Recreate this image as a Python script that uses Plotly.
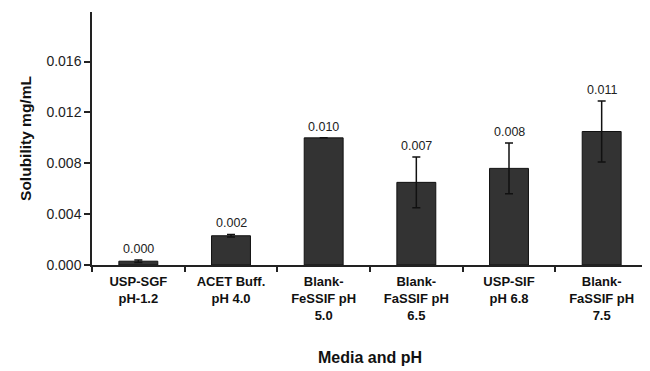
import plotly.graph_objects as go

categories = ["USP-SGF<br>pH-1.2", "ACET Buff.<br>pH 4.0", "Blank-<br>FeSSIF pH<br>5.0",
              "Blank-<br>FaSSIF pH<br>6.5", "USP-SIF<br>pH 6.8", "Blank-<br>FaSSIF pH<br>7.5"]
solubility = [0.0003, 0.0023, 0.0100, 0.0065, 0.0076, 0.0105]
errors = [0.0001, 0.0001, 0.0, 0.0020, 0.0020, 0.0024]
value_labels = ["0.000", "0.002", "0.010", "0.007", "0.008", "0.011"]
y_ticks = [0.000, 0.004, 0.008, 0.012, 0.016]

FONT = "Liberation Sans, Arial"

fig = go.Figure()
fig.add_trace(go.Bar(
    x=categories, y=solubility,
    marker=dict(color="#333333", line=dict(color="#111111", width=1)),
    width=0.42,
    error_y=dict(type="data", array=errors, visible=True, color="#111111", thickness=1.5, width=4),
))

for c, v, e, t in zip(categories, solubility, errors, value_labels):
    fig.add_annotation(x=c, y=v + e, text=t, showarrow=False, yanchor="bottom", yshift=2,
                       font=dict(family=FONT, size=12.5, color="#222222"))

# page body has an 8px default margin, so the figure is shrunk by 8px and margins shifted
fig.update_layout(
    width=642, height=363,
    margin=dict(l=84, r=2, t=4, b=106),
    plot_bgcolor="white", paper_bgcolor="white",
    showlegend=False,
)
fig.update_xaxes(
    showline=True, linecolor="#222222", linewidth=1.5,
    ticks="outside", tickson="boundaries", ticklen=5, tickcolor="#222222", tickwidth=1.5,
    ticklabelstandoff=4,
    tickfont=dict(family=FONT, size=13, color="#111111", weight="bold"),
    title=dict(text="Media and pH", standoff=30,
               font=dict(family=FONT, size=16, color="#111111", weight="bold")),
    showgrid=False,
)
fig.update_yaxes(
    range=[0, 0.0199],
    tickvals=y_ticks, ticktext=[f"{v:.3f}" for v in y_ticks],
    showline=True, linecolor="#222222", linewidth=1.5,
    ticks="outside", ticklen=6, tickcolor="#222222", tickwidth=1.5,
    tickfont=dict(family=FONT, size=14, color="#222222"),
    title=dict(text="Solubility mg/mL", standoff=11,
               font=dict(family=FONT, size=15.5, color="#111111", weight="bold")),
    showgrid=False, zeroline=False,
)

fig.write_html("out.html")
